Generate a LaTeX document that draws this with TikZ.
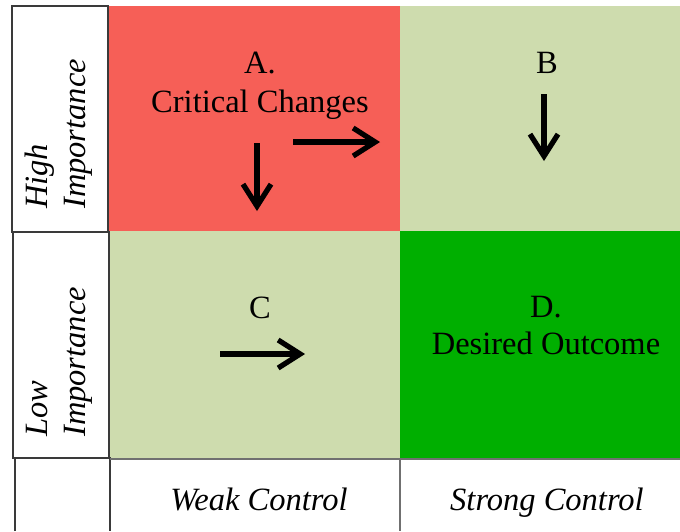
\documentclass[tikz,border=0pt]{standalone}
\usepackage{fontspec}
\setmainfont{Liberation Serif}
\usetikzlibrary{arrows.meta}
\definecolor{critred}{HTML}{F65F57}
\definecolor{paleg}{HTML}{CEDCAE}
\definecolor{deepg}{HTML}{00AF00}
\definecolor{edgec}{HTML}{3A3A3A}
\definecolor{rowline}{HTML}{707070}
\begin{document}
\begin{tikzpicture}[x=1pt,y=-1pt,
  lbl/.style={font=\fontsize{32.5}{39}\selectfont, inner sep=0pt, anchor=base},
  axislbl/.style={font=\fontsize{32.5}{39}\selectfont\itshape, inner sep=0pt},
  sidelbl/.style={axislbl, anchor=base west, rotate=90},
  boxline/.style={draw=edgec, line width=1.3pt},
  arr/.style={line width=5.2pt, -{Straight Barb[length=22pt, width=28pt, line width=5.2pt]}},
  arrshadow/.style={arr, draw=black, opacity=0.15, shift={(2pt,-3pt)}}]
\useasboundingbox (0,0) rectangle (680,531);
\fill[white] (0,0) rectangle (680,531);
% quadrants
\fill[critred] (108,6) rectangle (400,231);
\fill[paleg] (400,6) rectangle (680,231);
\fill[paleg] (110,231) rectangle (400,458);
\fill[deepg] (400,231) rectangle (680,458);
% left boxes
\draw[boxline] (12,6) rectangle (108,232);
\draw[boxline] (13,232) rectangle (109,458);
\draw[boxline] (15,531) -- (15,458) -- (110,458) -- (110,531);
% bottom row
\draw[rowline, line width=1.3pt] (110,459) -- (680,459);
\draw[rowline, line width=1.3pt] (400,459) -- (400,531);
% quadrant texts
\node[lbl] (ta) at (260,73) {A.};
\node[lbl] (tcrit) at (260,112) {Critical Changes};
\node[lbl] (tb) at (547,73) {B};
\node[lbl] (tc) at (260,318) {C};
\node[lbl] (td) at (546,317) {D.};
\node[lbl] (tdes) at (546,354) {Desired Outcome};
% axis labels
\node[axislbl, anchor=base] (weak) at (259,510) {Weak Control};
\node[axislbl, anchor=base] (strong) at (547,510) {Strong Control};
\node[sidelbl] (high) at (47,209) {High};
\node[sidelbl] (himp) at (85,209) {Importance};
\node[sidelbl] (low) at (47,437) {Low};
\node[sidelbl] (limp) at (85,437) {Importance};
% arrows
\coordinate (a1s) at (293,142);
\coordinate (a1e) at (380,142);
\coordinate (a2s) at (257,143);
\coordinate (a2e) at (257,211);
\coordinate (bs) at (544,94);
\coordinate (be) at (544,161);
\coordinate (cs) at (220,354);
\coordinate (ce) at (305,354);
\foreach \s/\e in {a1s/a1e, a2s/a2e, bs/be, cs/ce}{
  \draw[arrshadow] (\s) -- (\e);
  \draw[arr] (\s) -- (\e);
}
\end{tikzpicture}
\end{document}
